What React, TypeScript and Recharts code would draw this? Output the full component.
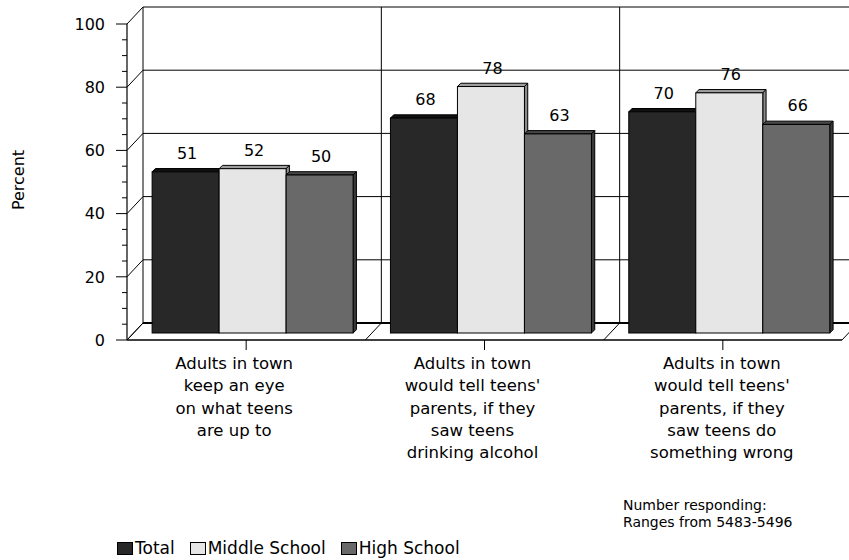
import React from 'react';
import {
  BarChart,
  Bar,
  XAxis,
  YAxis,
  CartesianGrid,
  LabelList,
  Legend,
  Customized,
} from 'recharts';

// ---- data ----
const categoryLines: string[][] = [
  ['Adults in town', 'keep an eye', 'on what teens', 'are up to'],
  ['Adults in town', "would tell teens'", 'parents, if they', 'saw teens', 'drinking alcohol'],
  ['Adults in town', "would tell teens'", 'parents, if they', 'saw teens do', 'something wrong'],
];
const totalValues = [51, 68, 70];
const middleSchoolValues = [52, 78, 76];
const highSchoolValues = [50, 63, 66];
const yTicks = [0, 5, 10, 15, 20, 25, 30, 35, 40, 45, 50, 55, 60, 65, 70, 75, 80, 85, 90, 95, 100];
const yGridValues = [0, 20, 40, 60, 80, 100];
const footnoteLines = ['Number responding:', 'Ranges from 5483-5496'];

const data = categoryLines.map((lines, i) => ({
  category: lines.join(' '),
  total: totalValues[i],
  middle: middleSchoolValues[i],
  high: highSchoolValues[i],
}));

// ---- layout & style ----
const W = 849;
const H = 560;
const AXIS_SIZE = 1;
const MARGIN = { top: 17, right: 0, bottom: 227 - AXIS_SIZE, left: 134 - AXIS_SIZE };
const PLOT_LEFT = MARGIN.left + AXIS_SIZE;
const PLOT_W = W - PLOT_LEFT - MARGIN.right;
const PLOT_BOTTOM = H - MARGIN.bottom - AXIS_SIZE;
const FRONT = { dx: -7, dy: 7 }; // front edge of the floor relative to the bar plane
const BACK = { dx: 9, dy: -10 }; // back wall relative to the bar plane
const BAR_DEPTH = 3.3;
const FONT = "'DejaVu Sans', 'Liberation Sans', Arial, sans-serif";
const LABEL_NUDGE = [-12, -12, -1];
const LINE_GAP = 22.3;

const series = [
  { key: 'total', name: 'Total', front: '#282828', top: '#111111', side: '#1a1a1a' },
  { key: 'middle', name: 'Middle School', front: '#e6e6e6', top: '#9e9e9e', side: '#8a8a8a' },
  { key: 'high', name: 'High School', front: '#696969', top: '#474747', side: '#3a3a3a' },
];

const boundaries = categoryLines
  .map((_, i) => PLOT_LEFT + (i * PLOT_W) / categoryLines.length)
  .concat([PLOT_LEFT + PLOT_W]);

// 3D box: front face, top face and right side face
const Box3D = (props: any) => {
  const { x, y, width, height, fill, topFill, sideFill } = props;
  if (width == null || height == null || height <= 0) return null;
  const d = BAR_DEPTH;
  const top = `${x},${y} ${x + d},${y - d} ${x + width + d},${y - d} ${x + width},${y}`;
  const side = `${x + width},${y} ${x + width + d},${y - d} ${x + width + d},${y + height - d} ${x + width},${y + height}`;
  return (
    <g>
      <polygon points={top} fill={topFill} stroke="#000" strokeWidth={1} strokeLinejoin="round" />
      <polygon points={side} fill={sideFill} stroke="#000" strokeWidth={1} strokeLinejoin="round" />
      <rect x={x} y={y} width={width} height={height} fill={fill} stroke="#000" strokeWidth={1} />
    </g>
  );
};

const ValueLabel = (props: any) => {
  const { x, y, width, value } = props;
  if (x == null || y == null) return null;
  return (
    <text x={x + width / 2 + 1.5} y={y - 13} textAnchor="middle" fontFamily={FONT} fontSize={16} fill="#000">
      {value}
    </text>
  );
};

const YTick = (props: any) => {
  const v = props.payload.value;
  const y = props.y + FRONT.dy;
  const ax = PLOT_LEFT + FRONT.dx;
  const major = v % 20 === 0;
  return (
    <g>
      <line x1={ax - (major ? 11 : 5)} x2={ax} y1={y} y2={y} stroke="#000" strokeWidth={1} />
      {major && (
        <text x={ax - 22} y={y} dy="0.36em" textAnchor="end" fontFamily={FONT} fontSize={16} fill="#000">
          {v}
        </text>
      )}
    </g>
  );
};

const XTick = (props: any) => {
  const idx = props.index ?? 0;
  const cx = props.x + FRONT.dx;
  const y0 = PLOT_BOTTOM + FRONT.dy;
  const lines = categoryLines[idx] || [];
  const tx = cx + (LABEL_NUDGE[idx] || 0);
  return (
    <g>
      <line x1={cx} x2={cx} y1={y0} y2={y0 + 10} stroke="#000" strokeWidth={1} />
      <text textAnchor="middle" fontFamily={FONT} fontSize={16.5} fill="#000">
        {lines.map((l, i) => (
          <tspan key={i} x={tx} y={y0 + 29 + i * LINE_GAP}>
            {l}
          </tspan>
        ))}
      </text>
    </g>
  );
};

// back wall gridlines, left wall diagonals and floor front edge
const renderHorizontal = (p: any) => {
  const { x1, x2, y1 } = p;
  const isFloor = Math.abs(y1 - PLOT_BOTTOM) < 0.5;
  return (
    <g key={p.key}>
      <line x1={x1 + BACK.dx} y1={y1 + BACK.dy} x2={x2 + BACK.dx} y2={y1 + BACK.dy} stroke="#000" strokeWidth={isFloor ? 2.2 : 1} />
      <line x1={x1 + FRONT.dx} y1={y1 + FRONT.dy} x2={x1 + BACK.dx} y2={y1 + BACK.dy} stroke="#000" strokeWidth={1} />
      {isFloor && (
        <line x1={x1 + FRONT.dx} y1={y1 + FRONT.dy} x2={x2 + FRONT.dx} y2={y1 + FRONT.dy} stroke="#000" strokeWidth={1.5} />
      )}
    </g>
  );
};

// back wall dividers, floor diagonals and the front value axis
const renderVertical = (p: any) => {
  const { x1, y1, y2, index } = p;
  return (
    <g key={p.key}>
      <line x1={x1 + BACK.dx} y1={y1 + BACK.dy} x2={x1 + BACK.dx} y2={y2 + BACK.dy} stroke="#000" strokeWidth={1} />
      <line x1={x1 + FRONT.dx} y1={y2 + FRONT.dy} x2={x1 + BACK.dx} y2={y2 + BACK.dy} stroke="#000" strokeWidth={1} />
      {index === 0 && (
        <line x1={x1 + FRONT.dx} y1={y1 + FRONT.dy} x2={x1 + FRONT.dx} y2={y2 + FRONT.dy} stroke="#000" strokeWidth={1.2} />
      )}
    </g>
  );
};

const Annotations = () => (
  <g fontFamily={FONT} fill="#000">
    <text transform="translate(24,180) rotate(-90)" textAnchor="middle" fontSize={16}>
      Percent
    </text>
    {footnoteLines.map((l, i) => (
      <text key={i} x={623} y={510 + i * 17} fontSize={14}>
        {l}
      </text>
    ))}
  </g>
);

const LegendContent = (props: any) => {
  const order = series.map((s) => s.name);
  const items = [...(props.payload || [])].sort(
    (a: any, b: any) => order.indexOf(a.value) - order.indexOf(b.value)
  );
  return (
    <div style={{ display: 'flex', alignItems: 'center', fontFamily: FONT, fontSize: 17, lineHeight: '20px', color: '#000' }}>
      {items.map((it: any, i: number) => (
        <span key={i} style={{ display: 'flex', alignItems: 'center', marginRight: 15 }}>
          <span
            style={{
              display: 'inline-block',
              width: 14,
              height: 11,
              background: it.color,
              border: '1px solid #000',
              marginRight: 2,
            }}
          />
          {it.value}
        </span>
      ))}
    </div>
  );
};

export default function App() {
  return (
    <div style={{ position: 'absolute', left: 0, top: 0, width: W, height: H, background: '#fff' }}>
      <BarChart width={W} height={H} data={data} margin={MARGIN} barGap={0} barCategoryGap="7.6%">
        <CartesianGrid
          horizontal={renderHorizontal}
          vertical={renderVertical}
          horizontalValues={yGridValues}
          verticalPoints={boundaries}
          fill="none"
        />
        <XAxis
          dataKey="category"
          height={AXIS_SIZE}
          interval={0}
          axisLine={false}
          tickLine={false}
          tick={<XTick />}
        />
        <YAxis
          domain={[0, 100]}
          ticks={yTicks}
          interval={0}
          width={AXIS_SIZE}
          axisLine={false}
          tickLine={false}
          tick={<YTick />}
        />
        {series.map((s) => (
          <Bar
            key={s.key}
            dataKey={s.key}
            name={s.name}
            fill={s.front}
            isAnimationActive={false}
            shape={(p: any) => <Box3D {...p} topFill={s.top} sideFill={s.side} />}
          >
            <LabelList dataKey={s.key} content={<ValueLabel />} />
          </Bar>
        ))}
        <Legend
          layout="horizontal"
          verticalAlign="middle"
          align="center"
          content={<LegendContent />}
          wrapperStyle={{ left: 117, top: 538, width: 'auto', height: 'auto' }}
        />
        <Customized component={Annotations} />
      </BarChart>
    </div>
  );
}
